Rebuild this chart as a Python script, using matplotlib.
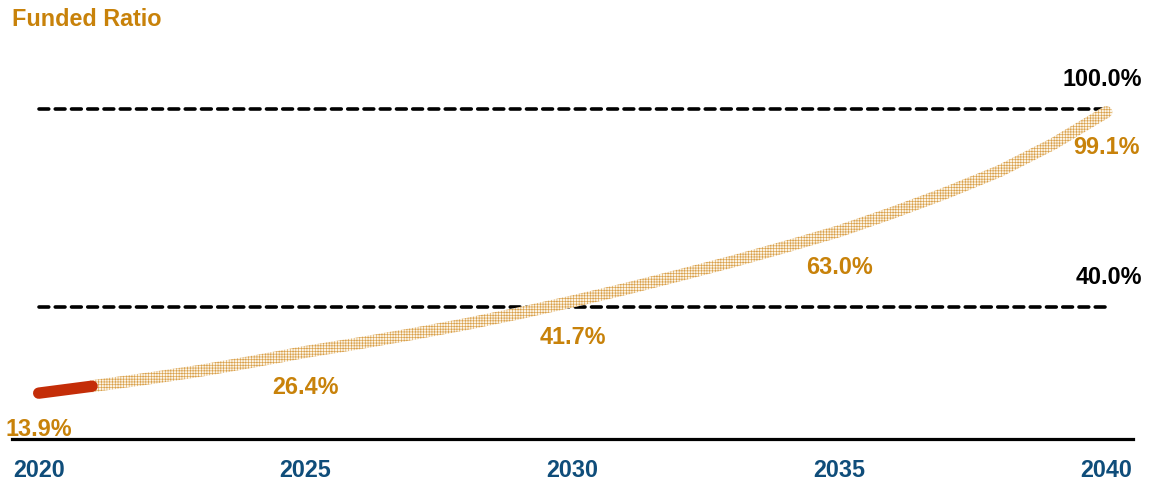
import numpy as np
import matplotlib
matplotlib.use("Agg")
import matplotlib.pyplot as plt
from matplotlib.path import Path
from matplotlib.patches import PathPatch

plt.rcParams['font.family'] = ['Liberation Sans', 'DejaVu Sans']
plt.rcParams['hatch.linewidth'] = 0.45

# Funded ratio (%) - actual history and projection
actual_years = [2020, 2021]
actual_ratio = [13.9, 16.0]

projected_years = list(range(2021, 2041))
projected_ratio = [16.0, 18.2, 20.6, 23.4, 26.4, 29.0, 31.8, 34.8, 38.1, 41.7,
                   45.5, 49.6, 53.8, 58.3, 63.0, 68.6, 74.6, 81.2, 89.4, 99.1]

label_years = [2020, 2025, 2030, 2035, 2040]
tick_years = [2020, 2025, 2030, 2035, 2040]
tick_labels = ["2020", "2025", "2030", "2035", "2040"]

target_levels = [100.0, 40.0]
target_labels = ["100.0%", "40.0%"]

ORANGE = "#C8820A"
BLUE = "#0F4D7A"
RED = "#C42D08"
FONT_SIZE = 16.8

W, H = 1149, 485
fig = plt.figure(figsize=(W / 100, H / 100), dpi=100)
ax = fig.add_axes([12 / W, 1 - 440 / H, 1121 / W, 418 / H])
ax.set_xlim(2019.5, 2040.5)
ax.set_ylim(0, 126.7)

for side in ("top", "left", "right"):
    ax.spines[side].set_visible(False)
ax.spines["bottom"].set_linewidth(2.3)
ax.spines["bottom"].set_color("black")
ax.set_yticks([])
ax.set_xticks(tick_years)
ax.set_xticklabels(tick_labels, fontsize=FONT_SIZE, fontweight="bold", color=BLUE)
ax.tick_params(axis="x", length=0, pad=13.5)

# Target reference lines
for lvl, lab in zip(target_levels, target_labels):
    ax.plot([tick_years[0], tick_years[-1]], [lvl, lvl], color="black", lw=2.6,
            dashes=(2.7, 1.8), dash_capstyle="round", zorder=2)
    ax.annotate(lab, xy=(tick_years[-1], lvl), xytext=(25.5, 17.5),
                textcoords="offset points", ha="right", va="baseline",
                fontsize=FONT_SIZE, fontweight="bold", color="black")

# Projected path drawn as a hatched band of constant pixel width
half_w = 6.0
pts = ax.transData.transform(np.column_stack([projected_years, projected_ratio]))
tang = np.gradient(pts, axis=0)
tang /= np.linalg.norm(tang, axis=1)[:, None]
norm = np.column_stack([-tang[:, 1], tang[:, 0]])
upper = pts + norm * half_w
lower = pts - norm * half_w

# rounded end caps
ang_end = np.arctan2(norm[-1, 1], norm[-1, 0])
cap_end = np.array([pts[-1] + half_w * np.array([np.cos(a), np.sin(a)])
                    for a in np.linspace(ang_end, ang_end - np.pi, 12)])
ang_start = np.arctan2(-norm[0, 1], -norm[0, 0])
cap_start = np.array([pts[0] + half_w * np.array([np.cos(a), np.sin(a)])
                      for a in np.linspace(ang_start, ang_start - np.pi, 12)])

band = np.vstack([upper, cap_end, lower[::-1], cap_start])
band_data = ax.transData.inverted().transform(band)
codes = [Path.MOVETO] + [Path.LINETO] * (len(band_data) - 2) + [Path.CLOSEPOLY]
patch = PathPatch(Path(band_data, codes), facecolor="#FCF4E6", edgecolor="#D9A04A",
                  hatch="++++++", linewidth=0, zorder=3)
ax.add_patch(patch)

# Actual segment
ax.plot(actual_years, actual_ratio, color=RED, lw=8.2, solid_capstyle="round", zorder=4)

# Value labels below selected points
all_years = actual_years[:1] + projected_years
all_ratio = actual_ratio[:1] + projected_ratio
for yr in label_years:
    v = all_ratio[all_years.index(yr)]
    ax.annotate(f"{v:.1f}%", xy=(yr, v), xytext=(0, -29.8), textcoords="offset points",
                ha="center", va="baseline", fontsize=FONT_SIZE, fontweight="bold",
                color=ORANGE, zorder=5)

fig.text(11.7 / W, 1 - 26 / H, "Funded Ratio", ha="left", va="baseline",
         fontsize=FONT_SIZE, fontweight="bold", color=ORANGE)

fig.savefig("out.png", dpi=100)
